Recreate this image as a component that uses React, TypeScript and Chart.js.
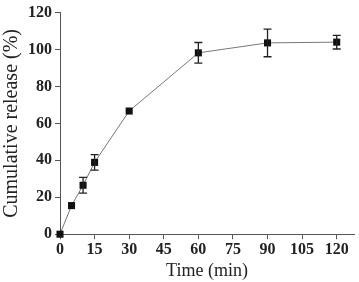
import React, { useEffect, useRef } from "react";
import { Chart, registerables } from "chart.js";

Chart.register(...registerables);

const times = [0, 5, 10, 15, 30, 60, 90, 120];
const release = [0, 15.5, 26.5, 38.9, 66.7, 98.2, 103.6, 104];
const errors = [0.5, 1, 4.3, 4.2, 1, 5.6, 7.5, 3.7];
const xTicks = [0, 15, 30, 45, 60, 75, 90, 105, 120];
const yTicks = [0, 20, 40, 60, 80, 100, 120];

const errorBarPlugin = {
  id: "errorBars",
  afterDatasetsDraw(chart: any) {
    const ctx = chart.ctx;
    const xs = chart.scales.x;
    const ys = chart.scales.y;
    ctx.save();
    ctx.strokeStyle = "#222";
    ctx.lineWidth = 1.3;
    times.forEach((t, i) => {
      const e = errors[i];
      if (e < 1.5) return;
      const px = xs.getPixelForValue(t);
      const top = ys.getPixelForValue(release[i] + e);
      const bot = ys.getPixelForValue(release[i] - e);
      ctx.beginPath();
      ctx.moveTo(px, top);
      ctx.lineTo(px, bot);
      ctx.moveTo(px - 4, top);
      ctx.lineTo(px + 4, top);
      ctx.moveTo(px - 4, bot);
      ctx.lineTo(px + 4, bot);
      ctx.stroke();
    });
    ctx.restore();
  },
};

export default function App() {
  const ref = useRef<HTMLCanvasElement>(null);
  useEffect(() => {
    document.body.style.margin = "0";
    const chart = new Chart(ref.current!, {
      type: "line",
      data: {
        datasets: [
          {
            data: times.map((t, i) => ({ x: t, y: release[i] })),
            borderColor: "#777",
            borderWidth: 1,
            pointStyle: "rect",
            pointRadius: 5,
            pointBackgroundColor: "#111",
            pointBorderColor: "#111",
            pointBorderWidth: 0,
            clip: false as any,
          },
        ],
      },
      options: {
        animation: false,
        responsive: false,
        layout: { padding: { top: 8, right: 1, left: 0 } },
        plugins: { legend: { display: false }, tooltip: { enabled: false } },
        scales: {
          x: {
            type: "linear",
            min: 0,
            max: 127.5,
            afterBuildTicks: (s: any) => {
              s.ticks = xTicks.map((v) => ({ value: v }));
            },
            grid: { drawOnChartArea: false, tickLength: 5, color: "#555" },
            border: { color: "#555", width: 1 },
            ticks: {
              color: "#222",
              font: { family: "Liberation Serif", size: 16, weight: "bold" },
              padding: 1,
              maxRotation: 0,
            },
            title: {
              display: true,
              text: "Time (min)",
              color: "#222",
              font: { family: "Liberation Serif", size: 18 },
              padding: { top: 0, bottom: 0 },
            },
          },
          y: {
            min: 0,
            max: 120,
            afterBuildTicks: (s: any) => {
              s.ticks = yTicks.map((v) => ({ value: v }));
            },
            grid: { drawOnChartArea: false, tickLength: 5, color: "#555" },
            border: { color: "#555", width: 1 },
            ticks: {
              color: "#222",
              font: { family: "Liberation Serif", size: 16, weight: "bold" },
              padding: 3,
            },
            title: {
              display: true,
              text: "Cumulative release (%)",
              color: "#222",
              font: { family: "Liberation Serif", size: 20 },
              padding: { top: 0, bottom: 1 },
            },
          },
        },
      },
      plugins: [errorBarPlugin],
    });
    return () => chart.destroy();
  }, []);
  return <canvas ref={ref} width={359} height={282} style={{ display: "block" }} />;
}
